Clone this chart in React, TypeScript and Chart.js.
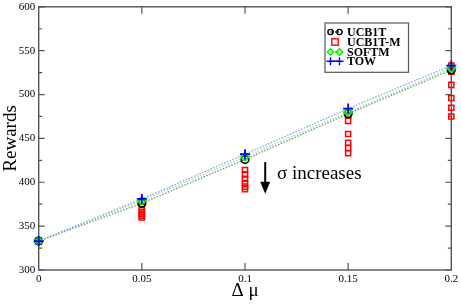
import React, { useEffect, useRef } from "react";
import { Chart, registerables } from "chart.js";

Chart.register(...registerables);

const deltaMu = [0, 0.05, 0.1, 0.15, 0.2];
const xTickLabels = ["0", "0.05", "0.1", "0.15", "0.2"];
const yTickLabels = ["300", "350", "400", "450", "500", "550", "600"];

const ucb1t = [333, 376, 426, 478, 528];
const softm = [333, 379, 429, 480, 530];
const tow = [333, 381, 432, 484, 533];

// UCB1T-M: several runs (sigma increases downward) per delta mu
const ucb1tmX = [
  0, 0, 0,
  0.05, 0.05, 0.05, 0.05, 0.05, 0.05,
  0.1, 0.1, 0.1, 0.1, 0.1, 0.1,
  0.15, 0.15, 0.15, 0.15, 0.15, 0.15,
  0.2, 0.2, 0.2, 0.2, 0.2, 0.2,
];
const ucb1tmY = [
  333, 333, 333,
  372, 369, 366, 364, 362, 360,
  414, 409, 404, 399, 395, 392,
  476, 470, 455, 445, 439, 433,
  533, 526, 511, 496, 485, 475,
];

const legendNames = ["UCB1T", "UCB1T-M", "SOFTM", "TOW"];
const annotationText = "σ increases";
const arrowX = 0.1098;
const arrowFromY = 423;
const arrowToY = 387;
const annotationX = 0.1155;
const annotationY = 409;

const SERIF = "'Liberation Serif', 'Times New Roman', serif";

const framePlugin = {
  id: "frameTicks",
  beforeDatasetsDraw(chart: any) {
    const { ctx, chartArea, scales } = chart;
    const { left, right, top, bottom } = chartArea;
    ctx.save();
    ctx.strokeStyle = "#555";
    ctx.lineWidth = 1.4;
    ctx.strokeRect(left, top, right - left, bottom - top);
    ctx.lineWidth = 1.2;
    ctx.beginPath();
    for (let v = 300; v <= 600; v += 25) {
      const y = scales.y.getPixelForValue(v);
      const len = (v - 300) % 50 === 0 ? 6 : 3.5;
      ctx.moveTo(left, y);
      ctx.lineTo(left + len, y);
      ctx.moveTo(right, y);
      ctx.lineTo(right - len, y);
    }
    for (let i = 1; i < deltaMu.length - 1; i++) {
      const x = scales.x.getPixelForValue(deltaMu[i]);
      ctx.moveTo(x, bottom);
      ctx.lineTo(x, bottom - 7);
      ctx.moveTo(x, top);
      ctx.lineTo(x, top + 7);
    }
    ctx.stroke();
    ctx.restore();
  },
  afterDraw(chart: any) {
    const { ctx, scales } = chart;
    ctx.save();
    // annotation arrow
    const ax = scales.x.getPixelForValue(arrowX);
    const ay1 = scales.y.getPixelForValue(arrowFromY);
    const ay2 = scales.y.getPixelForValue(arrowToY);
    ctx.strokeStyle = "#000";
    ctx.fillStyle = "#000";
    ctx.lineWidth = 2;
    ctx.beginPath();
    ctx.moveTo(ax, ay1);
    ctx.lineTo(ax, ay2 - 8);
    ctx.stroke();
    ctx.beginPath();
    ctx.moveTo(ax - 5, ay2 - 12);
    ctx.lineTo(ax + 5, ay2 - 12);
    ctx.lineTo(ax, ay2);
    ctx.closePath();
    ctx.fill();
    ctx.font = `19px ${SERIF}`;
    ctx.textBaseline = "middle";
    ctx.textAlign = "left";
    ctx.fillText(annotationText, scales.x.getPixelForValue(annotationX), scales.y.getPixelForValue(annotationY));

    // legend
    const bx = 325, by = 23, bw = 83.5, bh = 49.3;
    ctx.fillStyle = "#fff";
    ctx.fillRect(bx, by, bw, bh);
    ctx.strokeStyle = "#555";
    ctx.lineWidth = 1.2;
    ctx.strokeRect(bx, by, bw, bh);
    const rows = [32, 42, 52, 61.3];
    const s1 = 330.5, s2 = 339.5, sc = 335;
    ctx.font = `bold 12px ${SERIF}`;
    ctx.textBaseline = "middle";
    legendNames.forEach((name, i) => {
      const y = rows[i];
      ctx.lineWidth = 1.4;
      if (i === 0) {
        ctx.strokeStyle = "#000";
        ctx.setLineDash([1.2, 1.2]);
        ctx.beginPath(); ctx.moveTo(s1, y); ctx.lineTo(s2, y); ctx.stroke();
        ctx.setLineDash([]);
        for (const x of [s1, s2]) { ctx.beginPath(); ctx.arc(x, y, 2.6, 0, Math.PI * 2); ctx.stroke(); }
      } else if (i === 1) {
        ctx.strokeStyle = "#ff0000";
        ctx.strokeRect(sc - 3.2, y - 3.2, 6.4, 6.4);
      } else if (i === 2) {
        ctx.strokeStyle = "#00ee00";
        ctx.setLineDash([1.2, 1.2]);
        ctx.beginPath(); ctx.moveTo(s1, y); ctx.lineTo(s2, y); ctx.stroke();
        ctx.setLineDash([]);
        for (const x of [s1, s2]) {
          ctx.beginPath(); ctx.moveTo(x, y - 3.2); ctx.lineTo(x + 3.2, y); ctx.lineTo(x, y + 3.2); ctx.lineTo(x - 3.2, y); ctx.closePath(); ctx.stroke();
        }
      } else {
        ctx.strokeStyle = "#0000ff";
        ctx.beginPath(); ctx.moveTo(s1, y); ctx.lineTo(s2, y); ctx.stroke();
        for (const x of [s1, s2]) {
          ctx.beginPath(); ctx.moveTo(x - 4, y); ctx.lineTo(x + 4, y); ctx.moveTo(x, y - 4); ctx.lineTo(x, y + 4); ctx.stroke();
        }
      }
      ctx.fillStyle = "#000";
      ctx.fillText(name, 347, y + 0.5);
    });
    ctx.restore();
  },
};

export default function App() {
  const ref = useRef<HTMLCanvasElement>(null);
  useEffect(() => {
    document.body.style.margin = "0";
    const pts = (ys: number[]) => deltaMu.map((x, i) => ({ x, y: ys[i] }));
    const chart = new Chart(ref.current as HTMLCanvasElement, {
      type: "line",
      data: {
        datasets: [
          {
            label: "TOW",
            data: pts(tow),
            borderColor: "rgba(130,130,255,0.85)",
            borderDash: [1.5, 1.5],
            borderWidth: 1.3,
            pointStyle: "cross",
            pointRadius: 5,
            pointBorderColor: "#0000ff",
            pointBorderWidth: 1.8,
            order: 0,
            clip: false,
          } as any,
          {
            label: "SOFTM",
            data: pts(softm),
            borderColor: "rgba(120,240,120,0.9)",
            borderDash: [1.5, 1.5],
            borderWidth: 1.3,
            pointStyle: "rectRot",
            pointRadius: 4,
            pointBorderColor: "#00ee00",
            pointBackgroundColor: "rgba(0,0,0,0)",
            pointBorderWidth: 1.8,
            order: 1,
            clip: false,
          },
          {
            label: "UCB1T",
            data: pts(ucb1t),
            borderColor: "rgba(120,120,120,0.9)",
            borderDash: [1.5, 1.5],
            borderWidth: 1.3,
            pointStyle: "circle",
            pointRadius: 3.8,
            pointBorderColor: "#000",
            pointBackgroundColor: "rgba(0,0,0,0)",
            pointBorderWidth: 1.6,
            order: 2,
            clip: false,
          },
          {
            label: "UCB1T-M",
            data: ucb1tmX.map((x, i) => ({ x, y: ucb1tmY[i] })),
            showLine: false,
            pointStyle: "rect",
            pointRadius: 3.6,
            pointBorderColor: "#ff0000",
            pointBackgroundColor: "rgba(0,0,0,0)",
            pointBorderWidth: 1.5,
            order: 3,
            clip: false,
          },
        ],
      },
      options: {
        animation: false,
        responsive: false,
        layout: { padding: { left: 0, right: 9.7, top: 5, bottom: 0 } },
        plugins: { legend: { display: false }, tooltip: { enabled: false } },
        scales: {
          x: {
            type: "linear",
            min: 0,
            max: 0.2,
            afterFit: (s: any) => { s.height = 35; s.paddingLeft = 0; s.paddingRight = 0; },
            afterBuildTicks: (s: any) => { s.ticks = deltaMu.map((v) => ({ value: v })); },
            ticks: {
              callback: (_v: any, i: number) => xTickLabels[i],
              font: { family: SERIF, size: 11 },
              color: "#000",
              padding: 3,
              maxRotation: 0,
            },
            grid: { display: false, drawTicks: false },
            border: { display: false },
            title: {
              display: true,
              text: "Δ μ",
              font: { family: SERIF, size: 19 },
              color: "#000",
              padding: { top: 0, bottom: 3 },
            },
          },
          y: {
            min: 300,
            max: 600,
            afterFit: (s: any) => { s.width = 38.7; s.paddingTop = 0; s.paddingBottom = 0; },
            afterBuildTicks: (s: any) => { s.ticks = yTickLabels.map((t) => ({ value: Number(t) })); },
            ticks: {
              callback: (_v: any, i: number) => yTickLabels[i],
              font: { family: SERIF, size: 11 },
              color: "#000",
              padding: 3.5,
            },
            grid: { display: false, drawTicks: false },
            border: { display: false },
            title: {
              display: true,
              text: "Rewards",
              font: { family: SERIF, size: 19 },
              color: "#000",
              padding: { top: 0, bottom: 0 },
            },
          },
        },
      },
      plugins: [framePlugin],
    });
    return () => chart.destroy();
  }, []);
  return (
    <div style={{ position: "fixed", left: 0, top: 0, width: 461, height: 305, background: "#fff" }}>
      <canvas ref={ref} width={461} height={305} style={{ display: "block" }} />
    </div>
  );
}
